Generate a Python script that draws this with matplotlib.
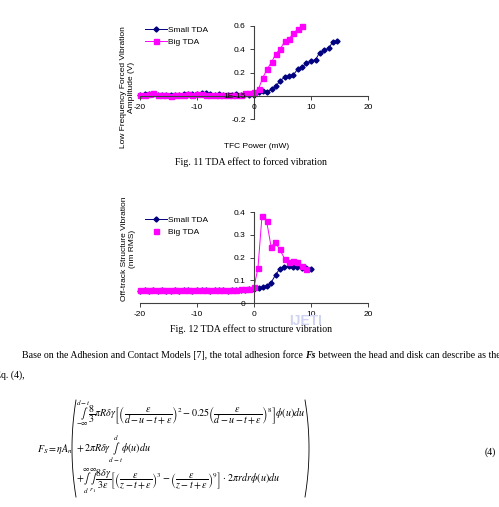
import numpy as np
import matplotlib
matplotlib.use('Agg')
from matplotlib import pyplot as plt
from matplotlib.lines import Line2D

W, H = 499, 507

# ---- data ----
neg_x = [-20.0, -19.2, -18.5, -17.7, -16.9, -16.2, -15.4, -14.6, -13.8, -13.1,
         -12.3, -11.5, -10.8, -10.0, -9.2, -8.5, -7.7, -6.9, -6.2, -5.4,
         -4.6, -3.8, -3.1, -2.3, -1.5, -0.8]

# Fig. 11 forced vibration (V)
f11_small_x = neg_x + [0.0, 0.8, 1.5, 2.3, 3.1, 3.8, 4.6, 5.4, 6.2, 6.9,
                       7.7, 8.5, 9.2, 10.0, 10.8, 11.5, 12.3, 13.1, 13.8, 14.6]
f11_small_y = [0.010, 0.012, 0.015, 0.012, 0.010, 0.008, 0.010, 0.005, 0.008, 0.010,
               0.012, 0.015, 0.012, 0.015, 0.025, 0.022, 0.015, 0.010, 0.012, 0.010,
               0.008, 0.010, 0.012, 0.010, 0.012, 0.010,
               0.01, 0.03, 0.04, 0.03, 0.06, 0.08, 0.13, 0.16, 0.17, 0.18,
               0.23, 0.25, 0.28, 0.30, 0.31, 0.37, 0.39, 0.41, 0.46, 0.47]
f11_big_x = neg_x + [0.0, 0.8, 1.5, 2.3, 3.1, 3.8, 4.6, 5.4, 6.2, 6.9, 7.7, 8.5]
f11_big_y = [0.010, 0.010, 0.015, 0.020, 0.010, 0.005, 0.010, 0.000, 0.005, 0.010,
             0.010, 0.015, 0.010, 0.015, 0.015, 0.010, 0.010, 0.005, 0.010, 0.010,
             0.005, 0.010, 0.010, 0.010, 0.020, 0.020,
             0.03, 0.06, 0.15, 0.23, 0.29, 0.36, 0.40, 0.47, 0.49, 0.54, 0.57, 0.60]

# Fig. 12 structure vibration (nm RMS)
f12_small_x = neg_x + [0.0, 0.8, 1.5, 2.3, 3.0, 3.8, 4.5, 5.3, 6.1, 6.8,
                       7.6, 8.4, 9.2, 10.0]
f12_small_y = [0.055, 0.056, 0.055, 0.057, 0.055, 0.056, 0.055, 0.054, 0.056, 0.055,
               0.057, 0.056, 0.055, 0.056, 0.057, 0.056, 0.055, 0.056, 0.057, 0.056,
               0.055, 0.056, 0.057, 0.058, 0.058, 0.060,
               0.060, 0.065, 0.070, 0.075, 0.090, 0.125, 0.150, 0.160, 0.162, 0.160,
               0.157, 0.155, 0.153, 0.152]
f12_big_x = neg_x + [0.0, 0.7, 1.4, 2.2, 3.0, 3.7, 4.5, 5.4, 6.1, 6.8, 7.6, 8.4, 9.1]
f12_big_y = [0.058, 0.057, 0.058, 0.056, 0.057, 0.058, 0.057, 0.056, 0.058, 0.057,
             0.059, 0.058, 0.057, 0.058, 0.059, 0.058, 0.057, 0.058, 0.059, 0.058,
             0.057, 0.058, 0.059, 0.060, 0.060, 0.062,
             0.069, 0.156, 0.384, 0.363, 0.248, 0.268, 0.237, 0.194, 0.182, 0.185,
             0.182, 0.165, 0.149]

x_ticks = [-20, -10, 0, 10, 20]
f11_yticks = [-0.2, 0.0, 0.2, 0.4, 0.6]
f11_yticklabels = ['-0.2', '1E-15', '0.2', '0.4', '0.6']
f12_yticks = [0.0, 0.1, 0.2, 0.3, 0.4]
f12_yticklabels = ['0', '0.1', '0.2', '0.3', '0.4']

NAVY = '#000080'
PINK = '#FF00FF'
AXC = '#404040'
SANS = 'Liberation Sans'
SERIF = 'Liberation Serif'
FS_CHART = 6.0
FS_BODY = 7.1
FS_EQ = 7.2

plt.rcParams['font.family'] = SANS
plt.rcParams['mathtext.fontset'] = 'stix'

fig = plt.figure(figsize=(W / 100, H / 100), dpi=100)


def fx(px):
    return px / W


def fy(py):
    return 1 - py / H


def excel_axes(left, right, top, bottom, ylim, yticks, yticklabels):
    ax = fig.add_axes([fx(left), fy(bottom), fx(right) - fx(left), fy(top) - fy(bottom)])
    ax.patch.set_visible(False)
    ax.set_axisbelow(False)
    ax.set_xlim(-20, 20)
    ax.set_ylim(*ylim)
    for s in ['top', 'right']:
        ax.spines[s].set_visible(False)
    ax.spines['left'].set_position(('data', 0))
    ax.spines['bottom'].set_position(('data', 0))
    for s in ['left', 'bottom']:
        ax.spines[s].set_color(AXC)
        ax.spines[s].set_linewidth(0.8)
    ax.set_xticks(x_ticks)
    ax.set_xticklabels([str(t) for t in x_ticks])
    ax.set_yticks(yticks)
    ax.set_yticklabels(yticklabels)
    ax.tick_params(axis='x', direction='out', length=3, width=0.7, color=AXC, pad=3,
                   labelsize=FS_CHART)
    ax.tick_params(axis='y', direction='out', length=3, width=0.7, color=AXC, pad=3,
                   labelsize=FS_CHART)
    return ax


# ---- Fig. 11 ----
ax1 = excel_axes(140, 368, 26, 119, (-0.2, 0.6), f11_yticks, f11_yticklabels)
ax1.plot(f11_small_x, f11_small_y, color=NAVY, lw=0.7, marker='D', ms=2.6,
         mec=NAVY, mfc=NAVY, label='Small TDA', clip_on=False)
ax1.plot(f11_big_x, f11_big_y, color=PINK, lw=0.7, marker='s', ms=3.6,
         mec=PINK, mfc=PINK, label='Big TDA', clip_on=False)
ax1.legend(loc='upper left', bbox_to_anchor=(fx(145), fy(26)), bbox_transform=fig.transFigure,
           frameon=False, fontsize=FS_CHART, handlelength=2.6, handletextpad=0.2,
           labelspacing=0.55, borderaxespad=0, borderpad=0)
fig.text(fx(128), fy(87), 'Low Frequency Forced Vibration\nAmplitude (V)', rotation=90,
         ha='center', va='center', multialignment='center', fontsize=FS_CHART)
fig.text(fx(257), fy(146), 'TFC Power (mW)', ha='center', va='center', fontsize=FS_CHART)
fig.text(fx(251), fy(162), 'Fig. 11 TDA effect to forced vibration', ha='center',
         va='center', fontsize=FS_BODY, family=SERIF)

# ---- Fig. 12 ----
fig.text(fx(306), fy(321), 'IJETI', ha='center', va='center', fontsize=10,
         color='#d0d4f2', fontweight='bold', zorder=0)
ax2 = excel_axes(140, 368, 212.3, 303, (0, 0.4), f12_yticks, f12_yticklabels)
ax2.plot(f12_small_x, f12_small_y, color=NAVY, lw=0.7, marker='D', ms=2.6,
         mec=NAVY, mfc=NAVY, clip_on=False)
ax2.plot(f12_big_x, f12_big_y, color=PINK, lw=0.7, marker='s', ms=3.6,
         mec=PINK, mfc=PINK, clip_on=False)
h_small = Line2D([], [], color=NAVY, lw=0.7, marker='D', ms=2.6)
h_big = Line2D([], [], color=PINK, lw=0, marker='s', ms=3.6)
ax2.legend([h_small, h_big], ['Small TDA', 'Big TDA'], loc='upper left',
           bbox_to_anchor=(fx(145), fy(216)), bbox_transform=fig.transFigure,
           frameon=False, fontsize=FS_CHART, handlelength=2.6, handletextpad=0.2,
           labelspacing=0.55, borderaxespad=0, borderpad=0)
fig.text(fx(129), fy(249), 'Off-track Structure Vibration\n(nm RMS)', rotation=90,
         ha='center', va='center', multialignment='center', fontsize=FS_CHART)
fig.text(fx(251), fy(329), 'Fig. 12 TDA effect to structure vibration', ha='center',
         va='center', fontsize=FS_BODY, family=SERIF)

# ---- body text ----
renderer = fig.canvas.get_renderer()
t1 = fig.text(fx(22), fy(355), 'Base on the Adhesion and Contact Models [7], the total adhesion force ',
              ha='left', va='center', fontsize=FS_BODY, family=SERIF)
bb = t1.get_window_extent(renderer)
t2 = fig.text(bb.x1 / fig.bbox.width, fy(355), 'Fs', ha='left', va='center', fontsize=FS_BODY,
              family=SERIF, fontweight='bold', style='italic')
bb = t2.get_window_extent(renderer)
fig.text(bb.x1 / fig.bbox.width, fy(355), ' between the head and disk can describe as the',
         ha='left', va='center', fontsize=FS_BODY, family=SERIF)
fig.text(fx(-5), fy(375), 'Eq. (4),', ha='left', va='center', fontsize=FS_BODY, family=SERIF)

# ---- equation (4) ----
eq1 = (r'$\underset{-\infty}{\overset{d-t}{\int}}\dfrac{8}{3}\pi R\delta\gamma\left[\left(\dfrac{\varepsilon}'
       r'{d-u-t+\varepsilon}\right)^{2}-0.25\left(\dfrac{\varepsilon}{d-u-t+\varepsilon}'
       r'\right)^{8}\right]\phi(u)du$')
eq2 = r'$+\,2\pi R\delta\gamma\underset{d-t}{\overset{d}{\int}}\phi(u)du$'
eq3 = (r'$+\underset{d}{\overset{\infty}{\int}}\underset{r_1}{\overset{\infty}{\int}}'
       r'\dfrac{8\delta\gamma}{3\varepsilon}\left[\left('
       r'\dfrac{\varepsilon}{z-t+\varepsilon}\right)^{3}-\left(\dfrac{\varepsilon}{z-t+\varepsilon}'
       r'\right)^{9}\right]\cdot\,2\pi r dr\phi(u)du$')
fig.text(fx(76), fy(413), eq1, ha='left', va='center', fontsize=FS_EQ)
fig.text(fx(76), fy(449), eq2, ha='left', va='center', fontsize=FS_EQ)
fig.text(fx(76), fy(481), eq3, ha='left', va='center', fontsize=FS_EQ)
fig.text(fx(37), fy(449), r'$F_S=\eta A_n$', ha='left', va='center', fontsize=FS_EQ)
fig.text(fx(490), fy(452), '(4)', ha='center', va='center', fontsize=FS_BODY, family=SERIF)

# big parentheses around the three lines
t = np.linspace(-1, 1, 60)
top, bot = 400, 497
mid = (top + bot) / 2
half = (bot - top) / 2
for x0, sgn in [(72, 1), (309, -1)]:
    px = x0 + sgn * 4 * (t ** 2)
    py = mid + half * t
    fig.add_artist(Line2D(fx(px), fy(py), color='black', lw=0.6, transform=fig.transFigure))

fig.savefig('out.png', dpi=100, facecolor='white')
